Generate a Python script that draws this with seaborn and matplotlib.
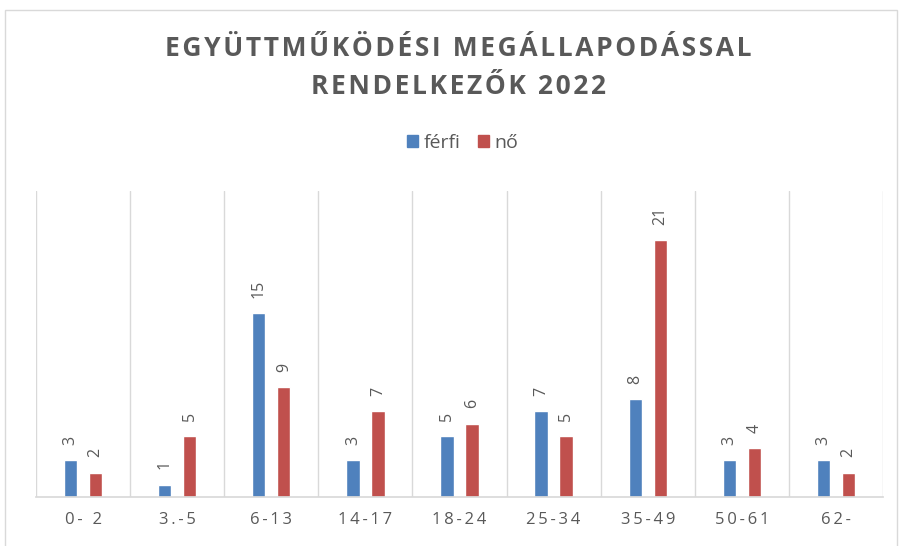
import matplotlib
matplotlib.use("Agg")
import matplotlib.pyplot as plt
import matplotlib.patches as mpatches
import pandas as pd
import seaborn as sns

# adatok
korcsoportok = ["0- 2", "3.-5", "6-13", "14-17", "18-24", "25-34", "35-49", "50-61", "62-"]
ferfi = [3, 1, 15, 3, 5, 7, 8, 3, 3]
no = [2, 5, 9, 7, 6, 5, 21, 4, 2]
nemek = ["férfi", "nő"]
szinek = ["#4F81BD", "#C0504D"]
cim = ["EGYÜTTMŰKÖDÉSI MEGÁLLAPODÁSSAL", "RENDELKEZŐK 2022"]

df = pd.DataFrame({
    "korcsoport": korcsoportok * 2,
    "nem": [nemek[0]] * len(korcsoportok) + [nemek[1]] * len(korcsoportok),
    "fo": ferfi + no,
})

sns.set_theme(style="white")
plt.rcParams["font.family"] = ["Open Sans", "DejaVu Sans"]
szurke = "#595959"


def ritkit(s, koz="\u2009"):
    # betűköz utánzása keskeny szóközökkel
    return koz.join(s)


fig = plt.figure(figsize=(9.02, 5.46), dpi=100)
ax = fig.add_axes([36 / 902, 49 / 546, 847 / 902, 306 / 546])

sns.barplot(data=df, x="korcsoport", y="fo", hue="nem", order=korcsoportok,
            hue_order=nemek, palette=szinek, width=0.532, gap=0.47,
            saturation=1, ax=ax, legend=False)

for cont in ax.containers:
    ax.bar_label(cont, rotation=90, padding=11, color=szurke, fontsize=11.5)

# kategóriahatárok rácsvonalai
ax.set_xlim(-0.5, len(korcsoportok) - 0.5)
ax.set_ylim(0, 25)
ax.set_xticks([i - 0.5 for i in range(len(korcsoportok) + 1)], minor=True)
ax.grid(True, which="minor", axis="x", color="#D9D9D9", linewidth=1)
ax.tick_params(axis="x", which="both", length=0)
ax.set_yticks([])
ax.set_xlabel("")
ax.set_ylabel("")
for side in ["top", "left", "right"]:
    ax.spines[side].set_visible(False)
ax.spines["bottom"].set_color("#D9D9D9")
ax.set_xticks(range(len(korcsoportok)))
ax.set_xticklabels([ritkit(k) for k in korcsoportok], color=szurke, fontsize=12)
ax.tick_params(axis="x", pad=11)

# cím
fig.text(0.508, 0.912, ritkit(cim[0], "\u200a"), ha="center", va="center",
         fontsize=19, fontweight="bold", color=szurke)
fig.text(0.508, 0.841, ritkit(cim[1], "\u200a"), ha="center", va="center",
         fontsize=19, fontweight="bold", color=szurke)

# jelmagyarázat
kezek = [mpatches.Patch(color=c, label=n) for c, n in zip(szinek, nemek)]
fig.legend(handles=kezek, loc="center", bbox_to_anchor=(0.513, 0.738), ncol=2,
           frameon=False, fontsize=14, handlelength=0.55, handleheight=0.55,
           handletextpad=0.3, columnspacing=0.9, labelcolor=szurke)

# diagram kerete
fig.patches.append(mpatches.Rectangle((5 / 902, -0.1), 892 / 902, 1.1 - 10 / 546,
                                      transform=fig.transFigure, fill=False,
                                      edgecolor="#D9D9D9", linewidth=1))

fig.savefig("out.png", dpi=100, facecolor="white")
